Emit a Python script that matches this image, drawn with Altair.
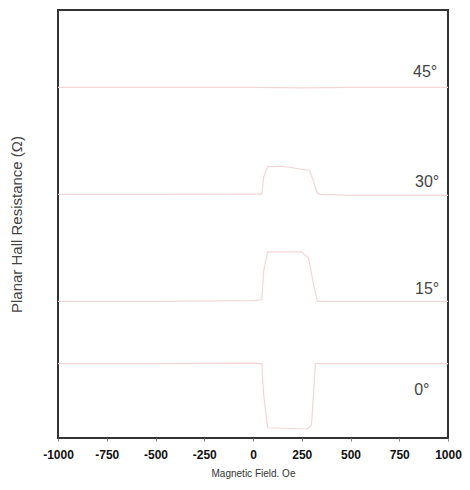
import altair as alt
import pandas as pd

# Magnetic field (Oe) and planar Hall resistance (arbitrary offset units) per angle
x_45 = [-1000, -500, 0, 250, 500, 1000]
y_45 = [81.9, 81.9, 81.9, 81.8, 81.9, 81.9]

x_30 = [-1000, -500, 0, 45, 55, 75, 150, 290, 310, 330, 350, 500, 1000]
y_30 = [56.9, 56.9, 57.0, 57.0, 61.0, 63.4, 63.5, 62.5, 60.0, 57.2, 56.9, 56.7, 56.7]

x_15 = [-1000, -500, 0, 45, 55, 75, 250, 285, 310, 330, 500, 1000]
y_15 = [31.9, 31.9, 32.1, 32.3, 39.0, 43.5, 43.5, 42.0, 36.0, 31.9, 31.9, 31.9]

x_0 = [-1000, -500, 0, 45, 55, 75, 280, 300, 310, 320, 500, 1000]
y_0 = [17.4, 17.4, 17.5, 17.4, 10.0, 2.4, 2.1, 3.0, 10.0, 17.4, 17.4, 17.4]

labels = ["45°", "30°", "15°", "0°"]
label_x = [945, 955, 955, 905]
label_y = [85.5, 59.7, 34.7, 11.1]

x_ticks = [-1000, -750, -500, -250, 0, 250, 500, 750, 1000]

rows = []
for name, xs, ys in [("45", x_45, y_45), ("30", x_30, y_30), ("15", x_15, y_15), ("0", x_0, y_0)]:
    for i, (a, b) in enumerate(zip(xs, ys)):
        rows.append({"series": name, "x": a, "y": b, "order": i})
df = pd.DataFrame(rows)
lab = pd.DataFrame({"label": labels, "x": label_x, "y": label_y})

xscale = alt.Scale(domain=[-1000, 1000], nice=False, zero=False)
yscale = alt.Scale(domain=[0, 100], nice=False, zero=False)

lines = alt.Chart(df).mark_line(strokeWidth=1.2, color="#f5d6d6").encode(
    x=alt.X("x:Q", scale=xscale,
            axis=alt.Axis(values=x_ticks, title="Magnetic Field. Oe", grid=False,
                          labelExpr="'' + datum.value", labelOverlap=False, labelFlush=False,
                          labelFont="Liberation Sans", labelFontSize=12, labelFontWeight="bold",
                          labelColor="#111", tickSize=3, tickColor="#888", labelPadding=8,
                          domain=False, titleFont="Liberation Sans", titleFontSize=10,
                          titleFontWeight="normal", titleColor="#333", titlePadding=8)),
    y=alt.Y("y:Q", scale=yscale,
            axis=alt.Axis(labels=False, ticks=False, grid=False, domain=False,
                          title="Planar Hall Resistance (Ω)", titleFont="Liberation Sans",
                          titleFontSize=15, titleFontWeight="normal", titleColor="#444",
                          titlePadding=34)),
    detail="series:N",
    order="order:Q",
)

texts = alt.Chart(lab).mark_text(align="right", baseline="middle", font="Liberation Sans",
                                 fontSize=16, color="#444").encode(
    x=alt.X("x:Q", scale=xscale),
    y=alt.Y("y:Q", scale=yscale),
    text="label:N",
)

chart = alt.layer(lines, texts).properties(
    width=390, height=428,
    background="white",
    autosize=alt.AutoSizeParams(type="none"),
    padding={"left": 50, "top": 2, "right": 14, "bottom": 42},
).configure_view(stroke="#333", strokeWidth=2)

chart.save("out.html", embed_options={"renderer": "svg", "actions": False})
